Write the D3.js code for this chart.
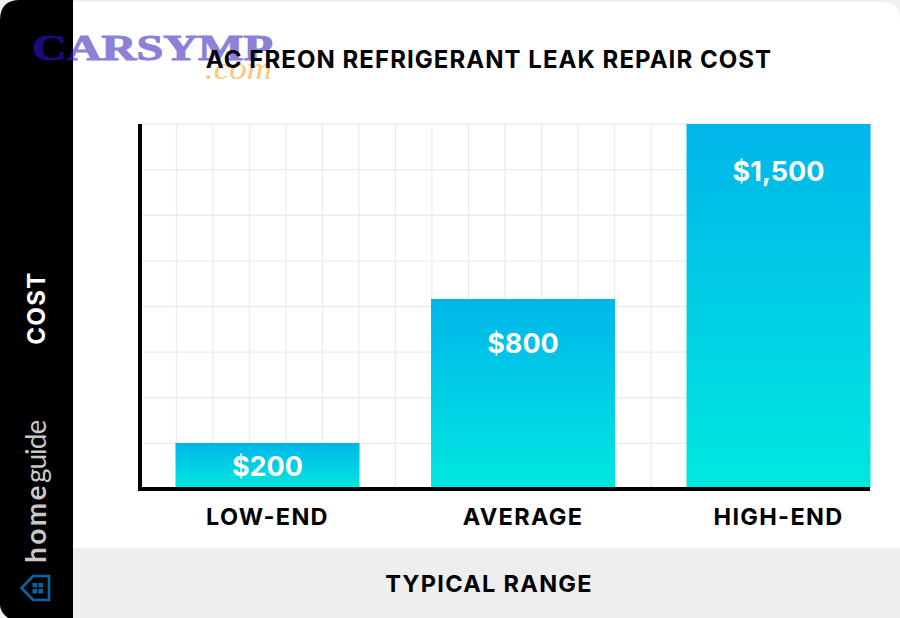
<!DOCTYPE html>
<html>
<head>
<meta charset="utf-8">
<script src="https://cdn.jsdelivr.net/npm/d3@7"></script>
<style>
  html, body { margin: 0; padding: 0; background: #fff; }
  svg { display: block; }
  text { font-family: Inter, "Open Sans", sans-serif; }
</style>
</head>
<body>
<div class="graph"></div>
<script>
const w = 900;
const h = 618;

const categories = ["LOW-END", "AVERAGE", "HIGH-END"];
const costs = [200, 800, 1500];
const costLabels = ["$200", "$800", "$1,500"];
// the bars in the picture are not quite to scale, so the scale has a knot per value
const costDomain = [0, 200, 800, 1500];
const gridRows = [0, 1, 2, 3, 4, 5, 6, 7, 8];
const gridCols = d3.range(0, 21);

const title = "AC FREON REFRIGERANT LEAK REPAIR COST";
const xTitle = "TYPICAL RANGE";
const yTitle = "COST";

const canvas = d3.select(".graph")
                 .append("svg")
                 .attr("width", w)
                 .attr("height", h);

const x = d3.scaleBand()
            .domain(categories)
            .range([175.5, 870.5])
            .paddingInner(0.28)
            .paddingOuter(0);

const y = d3.scaleLinear()
            .domain(costDomain)
            .range([488, 443, 299, 124]);

const gridY = d3.scaleLinear().domain([0, 8]).range([489, 124]);
const gridX = d3.scaleLinear().domain([0, 20]).range([140, 870]);

const defs = canvas.append("defs");

const grad = defs.append("linearGradient")
                 .attr("id", "barFill")
                 .attr("x1", 0).attr("y1", 0)
                 .attr("x2", 0).attr("y2", 1);
grad.append("stop").attr("offset", "0%").attr("stop-color", "#00b5ea");
grad.append("stop").attr("offset", "100%").attr("stop-color", "#00e8e0");

defs.append("clipPath").attr("id", "onPanel")
    .append("rect").attr("x", 0).attr("y", 0).attr("width", 73).attr("height", h);
defs.append("clipPath").attr("id", "offPanel")
    .append("rect").attr("x", 73).attr("y", 0).attr("width", w - 73).attr("height", h);

// card
canvas.append("rect").attr("width", w).attr("height", h).attr("fill", "#f1f1f1");
canvas.append("path")
      .attr("d", "M73 2H882Q900 2 900 20V618H73Z")
      .attr("fill", "#fff");
canvas.append("path")
      .attr("d", "M20 0H73V618H8Q0 612 0 605V20Q0 0 20 0Z")
      .attr("fill", "#000");
canvas.append("rect")
      .attr("x", 73).attr("y", 548)
      .attr("width", w - 73).attr("height", h - 548)
      .attr("fill", "#eeeeee");

// grid
const grid = canvas.append("g").attr("stroke", "#ececec").attr("stroke-width", 1.3);
grid.selectAll("line.row")
    .data(gridRows.slice(1))
    .enter().append("line")
    .attr("class", "row")
    .attr("x1", 140).attr("x2", 870)
    .attr("y1", d => gridY(d)).attr("y2", d => gridY(d));
grid.selectAll("line.col")
    .data(gridCols.slice(1))
    .enter().append("line")
    .attr("class", "col")
    .attr("x1", d => gridX(d)).attr("x2", d => gridX(d))
    .attr("y1", 124).attr("y2", 489);

// bars
canvas.selectAll("rect.bar")
      .data(costs)
      .enter().append("rect")
      .attr("class", "bar")
      .attr("x", (d, i) => x(categories[i]))
      .attr("y", d => y(d))
      .attr("width", x.bandwidth())
      .attr("height", d => y(0) - y(d))
      .attr("fill", "url(#barFill)");

const labelDrop = [33, 54, 57];
canvas.selectAll("text.value")
      .data(costs)
      .enter().append("text")
      .attr("class", "value")
      .attr("x", (d, i) => x(categories[i]) + x.bandwidth() / 2)
      .attr("y", (d, i) => y(d) + labelDrop[i])
      .attr("text-anchor", "middle")
      .attr("fill", "#fff")
      .attr("font-size", 27)
      .attr("font-weight", 700)
      .text((d, i) => costLabels[i]);

// axes lines
canvas.append("rect").attr("x", 138).attr("y", 124).attr("width", 4).attr("height", 367).attr("fill", "#000");
canvas.append("rect").attr("x", 138).attr("y", 487).attr("width", 732).attr("height", 4).attr("fill", "#000");

// category labels
const axis = canvas.append("g")
                   .attr("transform", "translate(0, 491)")
                   .call(d3.axisBottom(x).tickSize(0).tickPadding(17));
axis.select(".domain").remove();
axis.selectAll("text")
    .attr("fill", "#000")
    .attr("font-size", 23.5)
    .attr("font-weight", 700)
    .attr("letter-spacing", 1.3)
    .style("font-family", "Inter, sans-serif");

// watermark sits under the title
const logoText = (clip, fill) => canvas.append("text")
      .attr("clip-path", clip)
      .attr("x", 32).attr("y", 60)
      .attr("textLength", 241)
      .attr("lengthAdjust", "spacingAndGlyphs")
      .attr("font-size", 35)
      .attr("font-weight", 700)
      .attr("fill", fill)
      .attr("stroke", fill)
      .attr("stroke-width", 1)
      .style("font-family", "'Liberation Serif', serif")
      .text("CARSYMP");
logoText("url(#onPanel)", "#1b0a7e");
logoText("url(#offPanel)", "#8c80d8");

canvas.append("text")
      .attr("x", 205).attr("y", 79)
      .attr("textLength", 67)
      .attr("lengthAdjust", "spacingAndGlyphs")
      .attr("font-size", 32)
      .attr("font-style", "italic")
      .attr("fill", "#fdc77e")
      .style("font-family", "'Liberation Serif', serif")
      .text(".com");

canvas.append("text")
      .attr("x", 489).attr("y", 68)
      .attr("text-anchor", "middle")
      .attr("font-size", 24)
      .attr("font-weight", 700)
      .attr("letter-spacing", 1.05)
      .attr("fill", "#000")
      .text(title);

canvas.append("text")
      .attr("x", 489).attr("y", 592)
      .attr("text-anchor", "middle")
      .attr("font-size", 23.5)
      .attr("font-weight", 700)
      .attr("letter-spacing", 1.3)
      .attr("fill", "#000")
      .text(xTitle);

canvas.append("text")
      .attr("transform", "translate(45, 308) rotate(-90)")
      .attr("text-anchor", "middle")
      .attr("font-size", 24)
      .attr("font-weight", 700)
      .attr("letter-spacing", 1.4)
      .attr("fill", "#fff")
      .text(yTitle);

// homeguide mark
const brand = canvas.append("text")
                    .attr("transform", "translate(46, 563) rotate(-90)")
                    .attr("font-size", 28)
                    .attr("fill", "#c8c8c8")
                    .style("font-family", "Lato, sans-serif");
brand.append("tspan").attr("font-weight", 700).attr("letter-spacing", 2.4).text("home");
brand.append("tspan").attr("font-weight", 400).attr("letter-spacing", -1).text("guide");

const icon = canvas.append("g").attr("fill", "none").attr("stroke", "#0a659f");
icon.append("path")
    .attr("d", "M49 576V600H33L21.5 588L33 576Z")
    .attr("stroke-width", 2.6);
icon.selectAll("rect")
    .data([[32.5, 583], [38.5, 583], [32.5, 589], [38.5, 589]])
    .enter().append("rect")
    .attr("x", d => d[0]).attr("y", d => d[1])
    .attr("width", 4.5).attr("height", 4.5)
    .attr("fill", "#0a659f").attr("stroke", "none");
</script>
</body>
</html>
